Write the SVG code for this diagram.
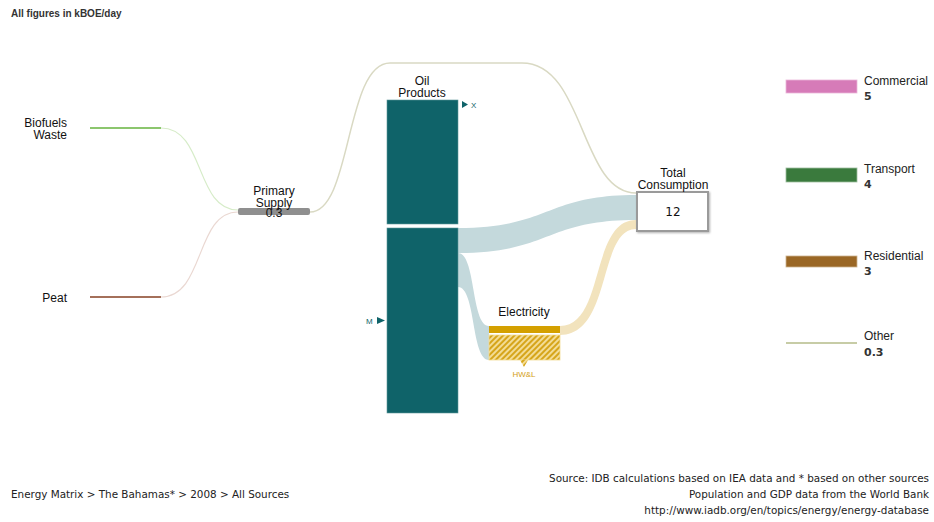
<svg xmlns="http://www.w3.org/2000/svg" width="934" height="522" viewBox="0 0 934 522">
<defs>
<style>
.lbl{font-family:"Liberation Sans",Arial,sans-serif;font-size:12px;fill:#111}
.leg{font-family:"Liberation Sans",Arial,sans-serif;font-size:12px;fill:#222}
.val{font-family:"DejaVu Sans",Verdana,sans-serif;font-size:11px;font-weight:bold;fill:#333}
.foot{font-family:"DejaVu Sans",Verdana,sans-serif;font-size:10.4px;fill:#222}
.teal{fill:#0f6369}
.link{fill:#c4d9dc}
</style>
<pattern id="hatch" width="4" height="4" patternUnits="userSpaceOnUse" patternTransform="rotate(45)">
<rect width="4" height="4" fill="#f3dc95"/>
<rect width="2" height="4" fill="#d6a51a"/>
</pattern>
<filter id="sh" x="-10%" y="-10%" width="130%" height="140%">
<feDropShadow dx="1" dy="1" stdDeviation="0.8" flood-color="#000" flood-opacity="0.3"/>
</filter>
</defs>
<rect width="934" height="522" fill="#fff"/>
<text x="11" y="17" style="font-family:'Liberation Sans',Arial,sans-serif;font-size:10px;font-weight:bold;fill:#333">All figures in kBOE/day</text>

<g id="connectors">
<path d="M161,128 C205,128 195,210 238,210" fill="none" stroke="#d6ecc8" stroke-width="1.2"/>
<path d="M161,297 C205,297 195,212 238,212" fill="none" stroke="#ead8d2" stroke-width="1.2"/>
<path d="M310,212 C352,212 345,63 390,63 L522,63 C585,63 580,193 636,193" fill="none" stroke="#d9d9c3" stroke-width="1.5"/>
<path class="link" d="M458,228 C550,228 545,195 636,195 L636,220 C545,220 550,253 458,253 Z"/>
<path class="link" d="M458,253 C476,253 471,326 489,326 L489,360 C471,360 476,287 458,287 Z"/>
<path d="M560,326 C605,326 590,220 636,220 L636,229 C598,229 612,335 560,335 Z" fill="#f2e3bd"/>
</g>

<g id="biofuels">
<line x1="90" y1="128" x2="161" y2="128" stroke="#8cc66e" stroke-width="2"/>
<text class="lbl" x="67" y="127" text-anchor="end">Biofuels</text>
<text class="lbl" x="67" y="139" text-anchor="end">Waste</text>
</g>
<g id="peat">
<line x1="90" y1="297" x2="161" y2="297" stroke="#a4705a" stroke-width="2"/>
<text class="lbl" x="67" y="302" text-anchor="end">Peat</text>
</g>
<g id="primary-supply">
<rect x="238" y="208" width="72" height="7" rx="2" fill="#8f8f8f"/>
<text class="lbl" x="274" y="195" text-anchor="middle">Primary</text>
<text class="lbl" x="274" y="207" text-anchor="middle">Supply</text>
<text class="lbl" x="274" y="217" text-anchor="middle">0.3</text>
</g>
<g id="oil-products">
<rect class="teal" x="387" y="100" width="71" height="124" stroke="#5e9699" stroke-width="0.6"/>
<rect class="teal" x="387" y="228" width="71" height="185" stroke="#5e9699" stroke-width="0.6"/>
<text class="lbl" x="422" y="85" text-anchor="middle">Oil</text>
<text class="lbl" x="422" y="97" text-anchor="middle">Products</text>
<polygon class="teal" points="462,101 468,104.5 462,108"/>
<text x="471" y="108" style="font-family:'Liberation Sans',Arial,sans-serif;font-size:8px;fill:#0f6369">X</text>
<text x="366" y="324" style="font-family:'Liberation Sans',Arial,sans-serif;font-size:8px;fill:#0f6369">M</text>
<polygon class="teal" points="377,317 385,320.5 377,324"/>
</g>
<g id="electricity">
<rect x="489" y="326" width="71" height="7" fill="#d4a000"/>
<rect x="489" y="335" width="71" height="25" fill="url(#hatch)" stroke="#f3dc95" stroke-width="0.8"/>
<polygon points="520,360 528,360 524,367" fill="url(#hatch)"/>
<text class="lbl" x="524" y="316" text-anchor="middle">Electricity</text>
<text x="524" y="377" text-anchor="middle" style="font-family:'Liberation Sans',Arial,sans-serif;font-size:8px;fill:#d4a017">HW&amp;L</text>
</g>
<g id="total-consumption">
<rect x="637" y="192" width="71" height="39" fill="#fff" stroke="#9a9a9a" stroke-width="2" filter="url(#sh)"/>
<text class="lbl" x="673" y="177" text-anchor="middle">Total</text>
<text class="lbl" x="673" y="189" text-anchor="middle">Consumption</text>
<text x="673" y="216" text-anchor="middle" style="font-family:'DejaVu Sans',Verdana,sans-serif;font-size:12px;fill:#111">12</text>
</g>
<g id="commercial">
<rect x="786" y="80" width="71" height="13" fill="#d67bb8" stroke="#ebb6d9" stroke-width="0.8"/>
<text class="leg" x="864" y="85">Commercial</text>
<text class="val" x="864" y="100">5</text>
</g>
<g id="transport">
<rect x="786" y="168" width="71" height="14" fill="#3a7a3d" stroke="#9dbd9e" stroke-width="0.8"/>
<text class="leg" x="864" y="173">Transport</text>
<text class="val" x="864" y="188">4</text>
</g>
<g id="residential">
<rect x="786" y="256" width="71" height="11" fill="#9a6725" stroke="#cdb38f" stroke-width="0.8"/>
<text class="leg" x="864" y="260">Residential</text>
<text class="val" x="864" y="275">3</text>
</g>
<g id="other">
<line x1="786" y1="343" x2="857" y2="343" stroke="#c7cca6" stroke-width="2"/>
<text class="leg" x="864" y="340">Other</text>
<text class="val" x="864" y="356">0.3</text>
</g>

<text class="foot" x="11" y="498">Energy Matrix &gt; The Bahamas* &gt; 2008 &gt; All Sources</text>
<text class="foot" x="929" y="482" text-anchor="end">Source: IDB calculations based on IEA data and * based on other sources</text>
<text class="foot" x="929" y="498" text-anchor="end">Population and GDP data from the World Bank</text>
<text class="foot" x="929" y="514" text-anchor="end">http://www.iadb.org/en/topics/energy/energy-database</text>
</svg>
